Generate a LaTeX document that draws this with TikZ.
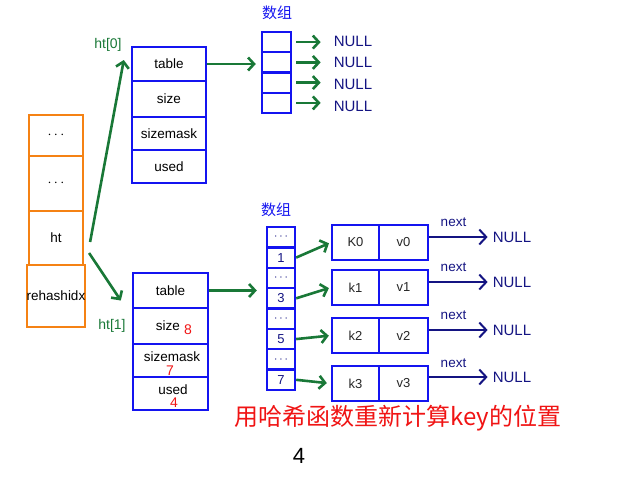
\documentclass[tikz,border=0pt]{standalone}
\usepackage{fontspec}
\setmainfont{Liberation Sans}
\newfontfamily\cjk{Noto Sans CJK SC}
\usetikzlibrary{arrows.meta,calc}
\definecolor{orange1}{RGB}{245,130,20}
\definecolor{blue1}{RGB}{20,20,240}
\definecolor{green1}{RGB}{25,120,55}
\definecolor{navy1}{RGB}{20,20,130}
\definecolor{red1}{RGB}{240,20,20}
\begin{document}
\begin{tikzpicture}[x=1pt,y=-1pt,
  fs/.style={font=\fontsize{#1}{#1}\selectfont},
  ocell/.style={draw=orange1, line width=2.2pt, minimum width=54pt, inner sep=0pt, fs=13.5},
  bcell/.style={draw=blue1, line width=2.4pt, inner sep=0pt, fs=13.5},
  acell/.style={draw=blue1, line width=2.4pt, inner sep=0pt, fs=13, text=navy1},
  ecell/.style={draw=blue1, line width=2.4pt, inner sep=0pt, fs=13, text=black!85, minimum height=35pt},
  garrow/.style={draw=green1, line width=2.6pt, -{Straight Barb[length=6pt,width=13pt]}},
  narrow/.style={draw=navy1, line width=2pt, -{Straight Barb[length=7pt,width=15pt]}},
  nul/.style={text=navy1, fs=15, inner sep=0pt},
  nxt/.style={text=navy1, fs=13.5, inner sep=0pt},
  glab/.style={text=green1, fs=14, inner sep=0pt},
  rnum/.style={text=red1, fs=14, inner sep=0pt},
  plain/.style={fs=13.5, inner sep=0pt},
  arrlab/.style={text=blue1, font=\cjk\fontsize{15}{15}\selectfont, inner sep=0pt}
]
\useasboundingbox (0,0) rectangle (640,480);

% orange stack
\node[ocell, minimum height=41pt] (o1) at (56,135.5) {$\cdots$};
\node[ocell, minimum height=55pt] (o2) at (56,183.5) {$\cdots$};
\node[ocell, minimum height=54pt] (ht) at (56,238) {ht};
\node[ocell, minimum height=62pt] (rh) at (56,296) {rehashidx};

% ht[0]
\node[bcell, minimum width=74pt, minimum height=34pt] (t0) at (169,64) {table};
\node[bcell, minimum width=74pt, minimum height=36pt] (s0) at (169,99) {size};
\node[bcell, minimum width=74pt, minimum height=33pt] (m0) at (169,133.5) {sizemask};
\node[bcell, minimum width=74pt, minimum height=33pt] (u0) at (169,166.5) {used};
\node[glab] (l0) at (108,45) {ht[0]};

% ht[1]
\node[bcell, minimum width=75pt, minimum height=35pt] (t1) at (170.5,290.5) {table};
\node[bcell, minimum width=75pt, minimum height=36pt] (s1) at (170.5,326) {};
\node[bcell, minimum width=75pt, minimum height=33pt] (m1) at (170.5,360.5) {};
\node[bcell, minimum width=75pt, minimum height=33pt] (u1) at (170.5,393.5) {};
\node[plain] (s1t) at (168,326) {size};
\node[plain] (m1t) at (172,357) {sizemask};
\node[plain] (u1t) at (173,390) {used};
\node[rnum] (r8) at (188,330) {8};
\node[rnum] (r7) at (170,370.5) {7};
\node[rnum] (r4) at (174,403) {4};
\node[glab] (l1) at (112,326) {ht[1]};

% arrows from ht
\draw[garrow] ($(ht.east)+(6,4)$) -- ($(t0.west)+(-7,-4)$);
\draw[garrow] ($(ht.east)+(5,15)$) -- ($(t1.west)+(-11,10)$);

% top array
\node[arrlab] (al0) at (277,13) {数组};
\foreach \i/\y in {0/42.1,1/62.4,2/82.6,3/102.9}{
  \node[acell, minimum width=29pt, minimum height=20.25pt] (a\i) at (276.5,\y) {};
}
\foreach \i/\y in {0/41,1/62,2/84,3/106}{
  \node[nul] (z\i) at (353,\y) {NULL};
  \draw[garrow, shorten <=4pt, shorten >=13pt] (a\i.east) -- (a\i.east -| z\i.west);
}
\draw[garrow, shorten >=5pt] (t0.east) -- (t0.east -| a1.west);

% bottom array
\node[arrlab] (al1) at (276,210) {数组};
\foreach \i/\t in {0/$\cdots$,1/1,2/$\cdots$,3/3,4/$\cdots$,5/5,6/$\cdots$,7/7}{
  \node[acell, minimum width=28pt, minimum height=20.375pt] (b\i) at (281,{237.19+20.375*\i}) {\t};
}
\draw[garrow, shorten >=9pt] (t1.east) -- (t1.east -| b3.west);

% entries
\foreach \i/\k/\y in {0/K0/242.5,1/k1/287.5,2/k2/335.5,3/k3/383.5}{
  \node[ecell, minimum width=47pt] (k\i) at (355.5,\y) {\k};
  \node[ecell, minimum width=49pt] (v\i) at (403.5,\y) {v\i};
}
\foreach \i/\y/\ny in {0/237/222,1/282/267,2/330/315,3/377/363}{
  \node[nul] (n\i) at (512,\y) {NULL};
  \node[nxt] (x\i) at (453.5,\ny) {next};
  \draw[narrow, shorten >=5pt] (v\i.east |- n\i.west) -- (n\i.west);
}
\draw[garrow, shorten >=2pt] (b1.east) -- (k0.west);
\draw[garrow, shorten >=2pt] (b3.east) -- (k1.west);
\draw[garrow, shorten >=2pt] (b5.east) -- (k2.west);
\draw[garrow, shorten >=4pt] (b7.east) -- (k3.west);

% bottom texts
\node[text=red1, font=\cjk\fontsize{24}{24}\selectfont, inner sep=0pt] (cap) at (398,418) {用哈希函数重新计算key的位置};
\node[fs=22, inner sep=0pt] (four) at (299,456) {4};
\end{tikzpicture}
\end{document}
